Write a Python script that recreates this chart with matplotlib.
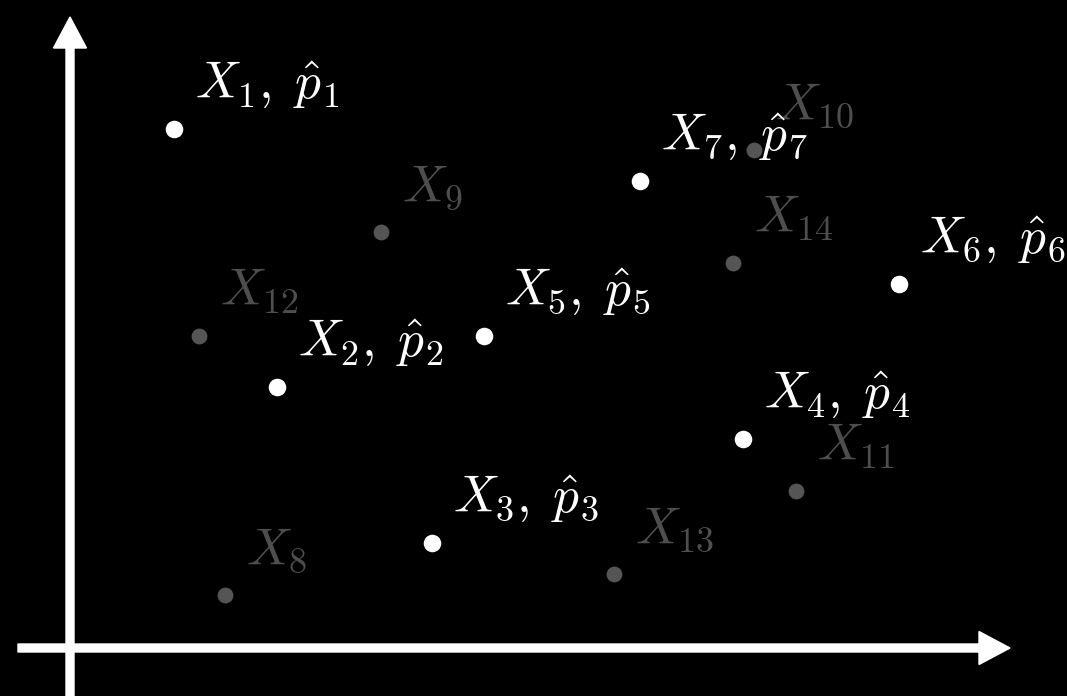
import matplotlib.pyplot as plt

plt.rcParams['mathtext.fontset'] = 'cm'

# Highlighted samples X1..X7 (with estimated probabilities)
x_main = [1.04, 2.07, 3.62, 6.73, 4.14, 8.29, 5.70]
y_main = [5.19, 2.61, 1.05, 2.09, 3.12, 3.64, 4.67]
main_ids = [1, 2, 3, 4, 5, 6, 7]

# Remaining samples X8..X14, shown faded
x_rest = [1.55, 3.11, 6.84, 7.26, 1.29, 5.44, 6.63]
y_rest = [0.53, 4.16, 4.98, 1.57, 3.12, 0.74, 3.85]
rest_ids = [8, 9, 10, 11, 12, 13, 14]

fig = plt.figure(figsize=(10.67, 6.96), dpi=100, facecolor='black')
ax = fig.add_axes([0, 0, 1, 1])
ax.set_facecolor('black')
ax.set_xlim(-0.70, 9.97)
ax.set_ylim(-0.48, 6.48)
ax.set_aspect('equal')
ax.axis('off')

# axes drawn as arrows
ax.arrow(0, -0.48, 0, 6.79, width=0.08, head_width=0.33, head_length=0.31,
         length_includes_head=True, color='white', zorder=1)
ax.arrow(-0.52, 0, 9.92, 0, width=0.08, head_width=0.33, head_length=0.31,
         length_includes_head=True, color='white', zorder=1)

gray = '#4e4e4e'
ax.scatter(x_rest, y_rest, s=130, color='#555555', linewidths=0, zorder=2)
for x, y, i in zip(x_rest, y_rest, rest_ids):
    ax.annotate(r'$X_{%d}$' % i, (x, y), xytext=(21, 31),
                textcoords='offset pixels', ha='left', va='baseline',
                fontsize=37, color=gray, zorder=2)

ax.scatter(x_main, y_main, s=160, color='white', linewidths=0, zorder=3)
for x, y, i in zip(x_main, y_main, main_ids):
    ax.annotate(r'$X_{%d},\;\hat{p}_{%d}$' % (i, i), (x, y), xytext=(21, 31),
                textcoords='offset pixels', ha='left', va='baseline',
                fontsize=37, color='white', zorder=4)

fig.savefig('out.png', dpi=100, facecolor='black')
